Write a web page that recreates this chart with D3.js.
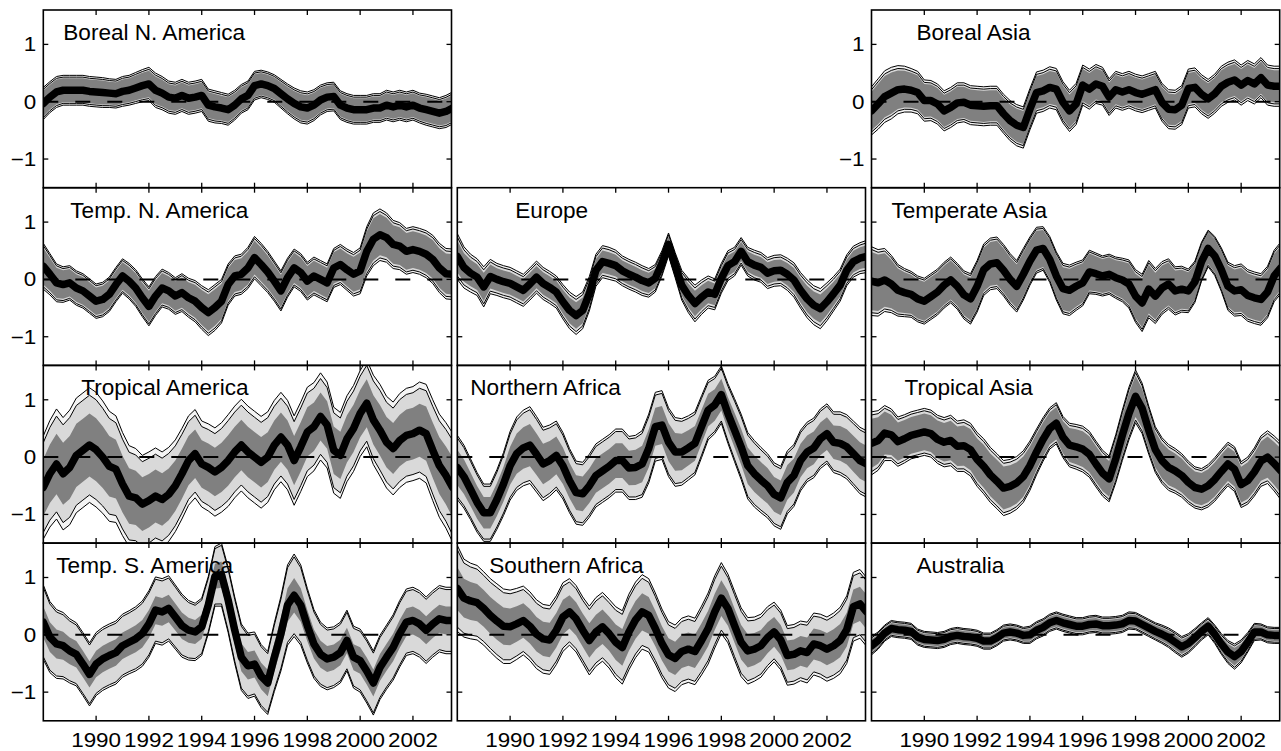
<!DOCTYPE html>
<html><head><meta charset="utf-8">
<script src="https://cdn.jsdelivr.net/npm/d3@7"></script>
<style>
body{margin:0;background:#fff}
svg{display:block}
text{font-family:"Liberation Sans",Arial,Helvetica,sans-serif;fill:#000}
</style>
</head><body>
<svg id="c" width="1281" height="751"></svg>
<script>
// ---------- data ----------
const startYear = 1988, stepYear = 0.25;
const xTickYears = [1990,1992,1994,1996,1998,2000,2002];
const xTickLabels = ["1990","1992","1994","1996","1998","2000","2002"];
const yTickValues = [-1,0,1];
const yTickLabels = ["\u22121","0","1"];
const regionNames = ["Boreal N. America","Temp. N. America","Tropical America","Temp. S. America","Europe","Northern Africa","Southern Africa","Boreal Asia","Temperate Asia","Tropical Asia","Australia"];

const bnaMean = [-0.03,0.08,0.17,0.2,0.2,0.2,0.2,0.18,0.17,0.16,0.15,0.14,0.18,0.2,0.24,0.28,0.31,0.2,0.15,0.08,0.06,0.11,0.06,0.08,0.11,-0.06,-0.09,-0.11,-0.14,-0.06,0.05,0.11,0.28,0.31,0.28,0.23,0.14,0.05,-0.03,-0.09,-0.11,-0.06,0.03,0.08,0.09,-0.06,-0.11,-0.14,-0.14,-0.14,-0.11,-0.11,-0.06,-0.09,-0.06,-0.09,-0.06,-0.11,-0.14,-0.17,-0.2,-0.17,-0.11];
const bnaSpread = [0.28,0.27,0.27,0.26,0.26,0.26,0.26,0.26,0.26,0.26,0.25,0.25,0.26,0.26,0.27,0.28,0.29,0.3,0.29,0.28,0.28,0.28,0.28,0.28,0.28,0.28,0.28,0.27,0.27,0.26,0.25,0.25,0.25,0.24,0.24,0.24,0.25,0.26,0.27,0.28,0.28,0.27,0.26,0.25,0.25,0.25,0.25,0.25,0.25,0.25,0.25,0.25,0.26,0.26,0.26,0.26,0.26,0.26,0.27,0.27,0.27,0.28,0.28];

const tnaMean = [0.23,0.09,-0.06,-0.09,-0.06,-0.15,-0.2,-0.29,-0.38,-0.35,-0.26,-0.09,0.06,-0.03,-0.15,-0.32,-0.47,-0.29,-0.15,-0.2,-0.29,-0.23,-0.32,-0.38,-0.49,-0.58,-0.49,-0.38,-0.09,0.06,0.09,0.2,0.38,0.26,0.13,-0.03,-0.2,0.03,0.2,0.12,-0.03,0.06,0,-0.06,0.2,0.26,0.17,0.09,0.15,0.49,0.7,0.78,0.73,0.61,0.58,0.49,0.52,0.49,0.44,0.35,0.2,0.1,0.09];
const tnaSpread = [0.4,0.36,0.33,0.31,0.3,0.3,0.3,0.3,0.3,0.3,0.3,0.3,0.3,0.31,0.32,0.33,0.34,0.34,0.33,0.32,0.32,0.33,0.34,0.36,0.38,0.4,0.4,0.38,0.36,0.35,0.35,0.36,0.37,0.37,0.36,0.35,0.35,0.34,0.33,0.33,0.33,0.33,0.33,0.33,0.34,0.35,0.36,0.38,0.4,0.43,0.46,0.45,0.43,0.42,0.41,0.4,0.4,0.4,0.41,0.42,0.43,0.44,0.44];

const traMean = [-0.53,-0.29,-0.12,-0.29,-0.18,0.03,0.12,0.21,0.13,0,-0.16,-0.21,-0.47,-0.68,-0.71,-0.82,-0.76,-0.68,-0.74,-0.65,-0.5,-0.29,-0.06,0.06,-0.12,-0.18,-0.26,-0.18,-0.06,0.09,0.21,0.09,0,-0.09,0,0.21,0.35,0.21,-0.06,0.18,0.44,0.53,0.71,0.56,0.12,0.03,0.32,0.5,0.76,0.94,0.65,0.47,0.26,0.15,0.29,0.38,0.41,0.47,0.41,0.12,-0.15,-0.32,-0.53];
const traSpread = [0.9,0.93,0.96,0.98,1.0,1.0,1.0,1.0,1.0,0.98,0.96,0.93,0.9,0.88,0.86,0.85,0.85,0.84,0.83,0.82,0.8,0.79,0.78,0.77,0.75,0.76,0.77,0.78,0.8,0.8,0.8,0.8,0.8,0.8,0.79,0.78,0.78,0.78,0.78,0.78,0.78,0.77,0.76,0.75,0.75,0.75,0.75,0.75,0.75,0.76,0.78,0.8,0.8,0.81,0.82,0.82,0.82,0.84,0.86,0.88,0.9,0.92,0.95];

const tsaMean = [0.22,-0.04,-0.16,-0.19,-0.28,-0.34,-0.51,-0.69,-0.51,-0.42,-0.36,-0.31,-0.19,-0.13,-0.07,0.02,0.19,0.43,0.4,0.46,0.31,0.16,0.08,0.05,0.14,0.52,1.02,1.05,0.61,0.08,-0.39,-0.54,-0.51,-0.72,-0.84,-0.39,0.02,0.52,0.69,0.52,0.16,-0.16,-0.34,-0.42,-0.39,-0.31,-0.1,-0.39,-0.45,-0.63,-0.84,-0.57,-0.39,-0.22,0.02,0.22,0.25,0.19,0.08,0.19,0.28,0.25,0.25];
const tsaSpread = [0.65,0.62,0.6,0.58,0.56,0.55,0.55,0.55,0.55,0.55,0.55,0.55,0.55,0.55,0.56,0.57,0.58,0.58,0.58,0.57,0.56,0.55,0.52,0.5,0.5,0.5,0.52,0.55,0.57,0.58,0.58,0.57,0.56,0.55,0.55,0.6,0.65,0.7,0.72,0.7,0.65,0.6,0.56,0.54,0.53,0.53,0.53,0.54,0.55,0.56,0.56,0.56,0.56,0.57,0.58,0.58,0.58,0.58,0.58,0.58,0.58,0.58,0.58];

const eurMean = [0.4,0.21,0.11,0.04,-0.13,0.05,0,-0.04,-0.07,-0.13,-0.19,-0.08,0.04,-0.07,-0.14,-0.22,-0.39,-0.54,-0.63,-0.54,-0.25,0.16,0.31,0.28,0.24,0.15,0.09,0.04,-0.02,-0.06,0.02,0.28,0.61,0.25,-0.1,-0.28,-0.42,-0.31,-0.22,-0.26,0.02,0.24,0.31,0.49,0.31,0.25,0.21,0.11,0.15,0.16,0.09,-0.01,-0.19,-0.34,-0.45,-0.51,-0.39,-0.25,-0.1,0.16,0.31,0.37,0.4];
const eurSpread = [0.4,0.36,0.33,0.32,0.35,0.3,0.28,0.28,0.28,0.28,0.28,0.28,0.28,0.28,0.28,0.28,0.3,0.32,0.33,0.32,0.3,0.28,0.28,0.28,0.27,0.26,0.26,0.26,0.26,0.25,0.24,0.22,0.2,0.22,0.26,0.3,0.32,0.3,0.28,0.27,0.26,0.26,0.25,0.24,0.25,0.26,0.26,0.27,0.27,0.27,0.28,0.3,0.31,0.33,0.34,0.35,0.33,0.3,0.28,0.27,0.27,0.27,0.28];

const nafMean = [-0.18,-0.34,-0.56,-0.79,-0.97,-0.97,-0.74,-0.47,-0.15,0.06,0.16,0.21,0.05,-0.12,-0.06,0.03,-0.15,-0.41,-0.62,-0.64,-0.5,-0.32,-0.24,-0.16,-0.06,-0.06,-0.19,-0.18,-0.12,0.15,0.53,0.56,0.26,0.09,0.09,0.16,0.24,0.53,0.82,0.91,1.09,0.76,0.47,0.18,-0.15,-0.29,-0.4,-0.5,-0.65,-0.71,-0.44,-0.32,-0.06,0.09,0.16,0.32,0.41,0.26,0.24,0.18,0.06,-0.06,-0.12];
const nafSpread = [0.56,0.55,0.53,0.52,0.5,0.5,0.52,0.55,0.6,0.64,0.66,0.67,0.66,0.64,0.62,0.6,0.58,0.56,0.55,0.55,0.55,0.55,0.55,0.55,0.55,0.55,0.55,0.56,0.58,0.6,0.6,0.6,0.6,0.6,0.58,0.56,0.55,0.54,0.52,0.5,0.5,0.52,0.55,0.57,0.58,0.58,0.57,0.56,0.55,0.55,0.55,0.54,0.53,0.52,0.52,0.52,0.52,0.53,0.55,0.56,0.57,0.58,0.58];

const safMean = [0.81,0.64,0.59,0.56,0.46,0.34,0.24,0.15,0.14,0.19,0.25,0.15,0.01,-0.07,-0.09,0.08,0.31,0.4,0.28,0.08,-0.1,0.05,0.14,0.02,-0.13,-0.22,0.05,0.26,0.4,0.34,0.11,-0.15,-0.35,-0.41,-0.29,-0.25,-0.29,-0.1,0.11,0.4,0.64,0.46,0.16,-0.13,-0.28,-0.25,-0.19,-0.05,0.05,-0.09,-0.36,-0.34,-0.28,-0.31,-0.16,-0.19,-0.25,-0.19,-0.1,0.09,0.49,0.54,0.4];
const safSpread = [0.75,0.68,0.66,0.65,0.64,0.64,0.65,0.65,0.64,0.62,0.6,0.6,0.6,0.6,0.6,0.6,0.6,0.58,0.58,0.58,0.6,0.6,0.6,0.6,0.62,0.64,0.66,0.66,0.65,0.64,0.62,0.6,0.58,0.58,0.58,0.58,0.58,0.6,0.62,0.63,0.62,0.6,0.6,0.6,0.58,0.56,0.55,0.54,0.52,0.52,0.52,0.52,0.52,0.53,0.54,0.55,0.56,0.57,0.58,0.59,0.6,0.6,0.6];

const basMean = [-0.16,-0.04,0.09,0.15,0.21,0.22,0.2,0.16,0.02,0.02,-0.04,-0.16,-0.1,-0.02,-0.01,-0.06,-0.07,-0.08,-0.07,-0.07,-0.21,-0.33,-0.41,-0.45,-0.13,0.16,0.19,0.25,0.22,-0.01,-0.16,-0.04,0.29,0.22,0.31,0.27,0.08,0.21,0.17,0.21,0.16,0.13,0.17,0.21,-0.01,-0.13,-0.14,-0.06,0.23,0.25,0.13,0.05,0.14,0.27,0.34,0.38,0.29,0.37,0.31,0.42,0.29,0.27,0.27];
const basSpread = [0.42,0.44,0.45,0.45,0.42,0.4,0.38,0.37,0.36,0.35,0.35,0.35,0.35,0.35,0.34,0.34,0.34,0.34,0.34,0.34,0.34,0.35,0.36,0.36,0.36,0.36,0.36,0.36,0.36,0.36,0.36,0.36,0.35,0.35,0.34,0.33,0.32,0.32,0.32,0.32,0.32,0.32,0.32,0.32,0.33,0.34,0.34,0.34,0.34,0.34,0.34,0.34,0.34,0.35,0.35,0.35,0.35,0.35,0.35,0.35,0.35,0.35,0.35];

const teaMean = [-0.03,-0.06,-0.01,-0.08,-0.19,-0.23,-0.26,-0.34,-0.38,-0.3,-0.22,-0.1,-0.01,-0.12,-0.27,-0.34,-0.12,0.17,0.27,0.29,0.16,0,-0.12,0.09,0.32,0.51,0.54,0.35,0.06,-0.16,-0.19,-0.12,-0.06,0.13,0.1,0.06,0.09,0.03,-0.01,-0.08,-0.29,-0.41,-0.17,-0.29,-0.15,-0.08,-0.2,-0.17,-0.2,-0.04,0.31,0.54,0.41,0.17,-0.12,-0.2,-0.18,-0.28,-0.32,-0.35,-0.22,0.06,0.2];
const teaSpread = [0.6,0.58,0.55,0.5,0.45,0.42,0.4,0.4,0.4,0.4,0.4,0.4,0.4,0.4,0.42,0.44,0.45,0.45,0.45,0.45,0.45,0.45,0.45,0.45,0.42,0.4,0.38,0.4,0.42,0.44,0.44,0.42,0.4,0.38,0.36,0.35,0.35,0.36,0.38,0.42,0.46,0.5,0.5,0.48,0.46,0.44,0.42,0.4,0.38,0.36,0.34,0.32,0.34,0.38,0.42,0.44,0.45,0.45,0.45,0.45,0.45,0.45,0.45];

const tasMean = [0.24,0.29,0.42,0.39,0.27,0.32,0.38,0.41,0.44,0.41,0.31,0.26,0.29,0.19,0.2,0.13,-0.04,-0.16,-0.31,-0.42,-0.54,-0.51,-0.45,-0.34,-0.15,0.09,0.31,0.5,0.59,0.35,0.21,0.18,0.14,0.05,-0.12,-0.28,-0.38,-0.03,0.38,0.76,1.06,0.85,0.47,0.13,-0.06,-0.18,-0.24,-0.32,-0.44,-0.53,-0.56,-0.5,-0.39,-0.25,-0.12,-0.21,-0.48,-0.41,-0.26,-0.07,0,-0.11,-0.24];
const tasSpread = [0.55,0.52,0.48,0.45,0.43,0.42,0.41,0.41,0.41,0.41,0.42,0.43,0.44,0.44,0.45,0.46,0.47,0.48,0.48,0.48,0.48,0.47,0.46,0.45,0.43,0.4,0.38,0.36,0.36,0.36,0.38,0.39,0.4,0.4,0.4,0.4,0.4,0.42,0.44,0.46,0.46,0.44,0.42,0.4,0.4,0.4,0.39,0.38,0.37,0.36,0.36,0.37,0.38,0.38,0.38,0.39,0.4,0.41,0.42,0.44,0.46,0.48,0.5];

const ausMean = [-0.19,-0.1,0.03,0.11,0.09,0.08,0.06,-0.04,-0.08,-0.09,-0.1,-0.08,-0.03,-0.01,-0.03,-0.04,-0.06,-0.11,-0.11,-0.05,0.03,0.05,0.03,-0.01,0,0.08,0.13,0.21,0.25,0.21,0.18,0.15,0.15,0.18,0.19,0.16,0.16,0.17,0.19,0.25,0.24,0.18,0.12,0.06,0.01,-0.05,-0.13,-0.21,-0.15,-0.05,0.06,0.15,0.01,-0.16,-0.3,-0.38,-0.29,-0.13,0.05,0.05,0,-0.01,-0.01];
const ausSpread = [0.16,0.15,0.14,0.14,0.14,0.14,0.14,0.14,0.14,0.14,0.14,0.14,0.14,0.14,0.14,0.14,0.14,0.14,0.14,0.14,0.14,0.14,0.14,0.14,0.15,0.15,0.15,0.15,0.15,0.15,0.15,0.15,0.15,0.15,0.15,0.15,0.15,0.15,0.15,0.15,0.15,0.15,0.15,0.15,0.16,0.17,0.18,0.18,0.17,0.16,0.15,0.15,0.16,0.18,0.2,0.22,0.2,0.17,0.15,0.14,0.14,0.14,0.14];

// inner band fractions of the outer spread (dark band, light band)
const darkFrac  = [0.8,0.8,0.55,0.42,0.7,0.55,0.5,0.8,0.85,0.78,0.7];
const lightFrac = [0.88,0.9,0.87,0.93,0.85,0.92,0.9,0.88,0.92,0.9,0.85];

// ---------- layout ----------
const panels = [
  {mean:bnaMean, spread:bnaSpread, col:0,row:0, tx:20,  ylab:true},
  {mean:tnaMean, spread:tnaSpread, col:0,row:1, tx:27,  ylab:true},
  {mean:traMean, spread:traSpread, col:0,row:2, tx:38,  ylab:true},
  {mean:tsaMean, spread:tsaSpread, col:0,row:3, tx:13,  ylab:true},
  {mean:eurMean, spread:eurSpread, col:1,row:1, tx:58,  ylab:false},
  {mean:nafMean, spread:nafSpread, col:1,row:2, tx:13,  ylab:false},
  {mean:safMean, spread:safSpread, col:1,row:3, tx:32,  ylab:false},
  {mean:basMean, spread:basSpread, col:2,row:0, tx:45,  ylab:true},
  {mean:teaMean, spread:teaSpread, col:2,row:1, tx:20,  ylab:false},
  {mean:tasMean, spread:tasSpread, col:2,row:2, tx:33,  ylab:false},
  {mean:ausMean, spread:ausSpread, col:2,row:3, tx:45,  ylab:false}
];
const colX = [43.3, 457.3, 871.5];
const rowY = [10, 187.7, 365.4, 543.1];
const W = 408.2, H = 177.7;

const svg = d3.select("#c");
const x = d3.scaleLinear().domain([1988, 2003.46]).range([0, W]);
const y = d3.scaleLinear().domain([-1.5, 1.6]).range([H, 0]);

panels.forEach((p, k) => {
  const g = svg.append("g").attr("transform", `translate(${colX[p.col]},${rowY[p.row]})`);
  const cid = "clip" + k;
  g.append("clipPath").attr("id", cid).append("rect").attr("width", W).attr("height", H);
  const pg = g.append("g").attr("clip-path", `url(#${cid})`);
  const n = Math.min(p.mean.length, p.spread.length);
  const data = d3.range(n).map(i => ({t: startYear + i*stepYear, m: p.mean[i], s: p.spread[i]}));
  const area = f => d3.area().x(d => x(d.t)).y0(d => y(d.m - f*d.s)).y1(d => y(d.m + f*d.s))(data);
  const edge = f => d3.line().x(d => x(d.t)).y(d => y(d.m + f*d.s))(data);

  pg.append("path").attr("d", area(1)).attr("fill", "#f4f4f4");
  pg.append("path").attr("d", area(lightFrac[k])).attr("fill", "#d9d9d9");
  pg.append("path").attr("d", area(darkFrac[k])).attr("fill", "#808080");
  [1, -1, lightFrac[k], -lightFrac[k]].forEach(f => {
    pg.append("path").attr("d", edge(f)).attr("fill", "none").attr("stroke", "#000").attr("stroke-width", 1);
  });
  pg.append("line").attr("x1", 0).attr("x2", W).attr("y1", y(0)).attr("y2", y(0))
    .attr("stroke", "#000").attr("stroke-width", 2).attr("stroke-dasharray", "15,17");
  pg.append("path").attr("d", d3.line().x(d => x(d.t)).y(d => y(d.m))(data))
    .attr("fill", "none").attr("stroke", "#000").attr("stroke-width", 7.5)
    .attr("stroke-linejoin", "round").attr("stroke-linecap", "round");

  // frame
  g.append("rect").attr("width", W).attr("height", H).attr("fill", "none")
    .attr("stroke", "#000").attr("stroke-width", 1.6);
  // inward ticks
  const tl = 5;
  xTickYears.forEach(v => {
    g.append("line").attr("x1", x(v)).attr("x2", x(v)).attr("y1", 0).attr("y2", tl).attr("stroke", "#000").attr("stroke-width", 1.3);
    g.append("line").attr("x1", x(v)).attr("x2", x(v)).attr("y1", H).attr("y2", H - tl).attr("stroke", "#000").attr("stroke-width", 1.3);
  });
  yTickValues.forEach(v => {
    g.append("line").attr("x1", 0).attr("x2", tl).attr("y1", y(v)).attr("y2", y(v)).attr("stroke", "#000").attr("stroke-width", 1.3);
    g.append("line").attr("x1", W).attr("x2", W - tl).attr("y1", y(v)).attr("y2", y(v)).attr("stroke", "#000").attr("stroke-width", 1.3);
  });
  if (p.ylab) {
    yTickValues.forEach((v, j) => {
      g.append("text").attr("transform", `translate(${-7},${y(v) + 7}) scale(1.15,1)`)
        .attr("text-anchor", "end").attr("font-size", "19.5px").text(yTickLabels[j]);
    });
  }
  if (p.row === 3) {
    xTickYears.forEach((v, j) => {
      g.append("text").attr("transform", `translate(${x(v)},${H + 26}) scale(1.15,1)`)
        .attr("text-anchor", "middle").attr("font-size", "19.5px").text(xTickLabels[j]);
    });
  }
  g.append("text").attr("transform", `translate(${p.tx},30) scale(1.05,1)`)
    .attr("font-size", "21.5px").text(regionNames[k]);
});
</script>
</body></html>
